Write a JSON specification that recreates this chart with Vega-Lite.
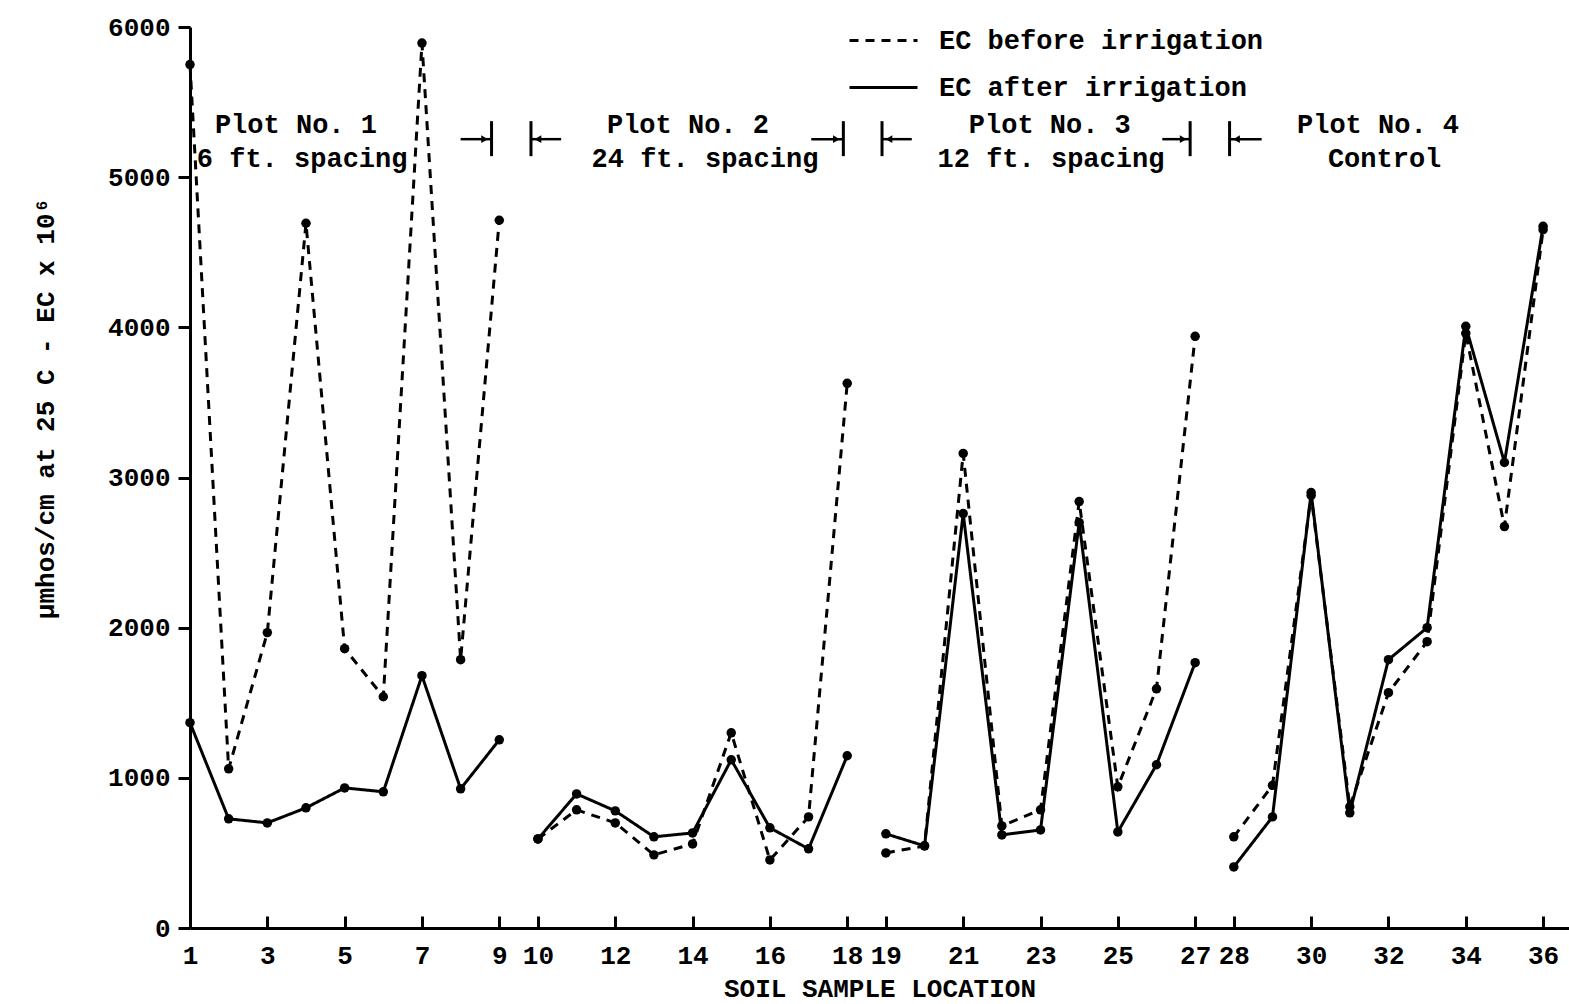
{
  "$schema": "https://vega.github.io/schema/vega-lite/v6.json",
  "width": 1379,
  "height": 901,
  "autosize": "none",
  "padding": {"left": 190, "top": 27, "right": 0, "bottom": 76},
  "background": "white",
  "config": {
    "view": {"stroke": null},
    "font": "Liberation Mono",
    "axis": {"grid": false, "domainColor": "black", "domainWidth": 3, "tickColor": "black", "tickWidth": 3, "labelColor": "black", "labelFont": "Liberation Mono", "labelFontWeight": "bold", "labelFontSize": 26, "titleFont": "Liberation Mono", "titleFontWeight": "bold", "titleFontSize": 26, "titleColor": "black"}
  },
  "datasets": {
    "ec": [
      {"loc": 1, "ec": 5750, "series": "EC before irrigation", "plot": 1},
      {"loc": 2, "ec": 1060, "series": "EC before irrigation", "plot": 1},
      {"loc": 3, "ec": 1967, "series": "EC before irrigation", "plot": 1},
      {"loc": 4, "ec": 4693, "series": "EC before irrigation", "plot": 1},
      {"loc": 5, "ec": 1860, "series": "EC before irrigation", "plot": 1},
      {"loc": 6, "ec": 1540, "series": "EC before irrigation", "plot": 1},
      {"loc": 7, "ec": 5893, "series": "EC before irrigation", "plot": 1},
      {"loc": 8, "ec": 1787, "series": "EC before irrigation", "plot": 1},
      {"loc": 9, "ec": 4713, "series": "EC before irrigation", "plot": 1},
      {"loc": 10, "ec": 593, "series": "EC before irrigation", "plot": 2},
      {"loc": 11, "ec": 787, "series": "EC before irrigation", "plot": 2},
      {"loc": 12, "ec": 700, "series": "EC before irrigation", "plot": 2},
      {"loc": 13, "ec": 487, "series": "EC before irrigation", "plot": 2},
      {"loc": 14, "ec": 560, "series": "EC before irrigation", "plot": 2},
      {"loc": 15, "ec": 1300, "series": "EC before irrigation", "plot": 2},
      {"loc": 16, "ec": 453, "series": "EC before irrigation", "plot": 2},
      {"loc": 17, "ec": 740, "series": "EC before irrigation", "plot": 2},
      {"loc": 18, "ec": 3627, "series": "EC before irrigation", "plot": 2},
      {"loc": 19, "ec": 500, "series": "EC before irrigation", "plot": 3},
      {"loc": 20, "ec": 547, "series": "EC before irrigation", "plot": 3},
      {"loc": 21, "ec": 3160, "series": "EC before irrigation", "plot": 3},
      {"loc": 22, "ec": 680, "series": "EC before irrigation", "plot": 3},
      {"loc": 23, "ec": 787, "series": "EC before irrigation", "plot": 3},
      {"loc": 24, "ec": 2840, "series": "EC before irrigation", "plot": 3},
      {"loc": 25, "ec": 940, "series": "EC before irrigation", "plot": 3},
      {"loc": 26, "ec": 1593, "series": "EC before irrigation", "plot": 3},
      {"loc": 27, "ec": 3940, "series": "EC before irrigation", "plot": 3},
      {"loc": 28, "ec": 607, "series": "EC before irrigation", "plot": 4},
      {"loc": 29, "ec": 950, "series": "EC before irrigation", "plot": 4},
      {"loc": 30, "ec": 2880, "series": "EC before irrigation", "plot": 4},
      {"loc": 31, "ec": 807, "series": "EC before irrigation", "plot": 4},
      {"loc": 32, "ec": 1567, "series": "EC before irrigation", "plot": 4},
      {"loc": 33, "ec": 1907, "series": "EC before irrigation", "plot": 4},
      {"loc": 34, "ec": 3960, "series": "EC before irrigation", "plot": 4},
      {"loc": 35, "ec": 2673, "series": "EC before irrigation", "plot": 4},
      {"loc": 36, "ec": 4650, "series": "EC before irrigation", "plot": 4},
      {"loc": 1, "ec": 1367, "series": "EC after irrigation", "plot": 1},
      {"loc": 2, "ec": 727, "series": "EC after irrigation", "plot": 1},
      {"loc": 3, "ec": 700, "series": "EC after irrigation", "plot": 1},
      {"loc": 4, "ec": 800, "series": "EC after irrigation", "plot": 1},
      {"loc": 5, "ec": 933, "series": "EC after irrigation", "plot": 1},
      {"loc": 6, "ec": 907, "series": "EC after irrigation", "plot": 1},
      {"loc": 7, "ec": 1680, "series": "EC after irrigation", "plot": 1},
      {"loc": 8, "ec": 927, "series": "EC after irrigation", "plot": 1},
      {"loc": 9, "ec": 1253, "series": "EC after irrigation", "plot": 1},
      {"loc": 10, "ec": 593, "series": "EC after irrigation", "plot": 2},
      {"loc": 11, "ec": 893, "series": "EC after irrigation", "plot": 2},
      {"loc": 12, "ec": 780, "series": "EC after irrigation", "plot": 2},
      {"loc": 13, "ec": 607, "series": "EC after irrigation", "plot": 2},
      {"loc": 14, "ec": 633, "series": "EC after irrigation", "plot": 2},
      {"loc": 15, "ec": 1120, "series": "EC after irrigation", "plot": 2},
      {"loc": 16, "ec": 667, "series": "EC after irrigation", "plot": 2},
      {"loc": 17, "ec": 527, "series": "EC after irrigation", "plot": 2},
      {"loc": 18, "ec": 1147, "series": "EC after irrigation", "plot": 2},
      {"loc": 19, "ec": 627, "series": "EC after irrigation", "plot": 3},
      {"loc": 20, "ec": 547, "series": "EC after irrigation", "plot": 3},
      {"loc": 21, "ec": 2760, "series": "EC after irrigation", "plot": 3},
      {"loc": 22, "ec": 620, "series": "EC after irrigation", "plot": 3},
      {"loc": 23, "ec": 653, "series": "EC after irrigation", "plot": 3},
      {"loc": 24, "ec": 2700, "series": "EC after irrigation", "plot": 3},
      {"loc": 25, "ec": 640, "series": "EC after irrigation", "plot": 3},
      {"loc": 26, "ec": 1087, "series": "EC after irrigation", "plot": 3},
      {"loc": 27, "ec": 1767, "series": "EC after irrigation", "plot": 3},
      {"loc": 28, "ec": 407, "series": "EC after irrigation", "plot": 4},
      {"loc": 29, "ec": 740, "series": "EC after irrigation", "plot": 4},
      {"loc": 30, "ec": 2900, "series": "EC after irrigation", "plot": 4},
      {"loc": 31, "ec": 767, "series": "EC after irrigation", "plot": 4},
      {"loc": 32, "ec": 1787, "series": "EC after irrigation", "plot": 4},
      {"loc": 33, "ec": 2000, "series": "EC after irrigation", "plot": 4},
      {"loc": 34, "ec": 4007, "series": "EC after irrigation", "plot": 4},
      {"loc": 35, "ec": 3100, "series": "EC after irrigation", "plot": 4},
      {"loc": 36, "ec": 4673, "series": "EC after irrigation", "plot": 4}
    ],
    "labels": [
      {"label": "Plot No. 1", "x": 3.74, "y": 5347},
      {"label": "6 ft. spacing", "x": 3.9, "y": 5120},
      {"label": "Plot No. 2", "x": 13.88, "y": 5347},
      {"label": "24 ft. spacing", "x": 14.32, "y": 5120},
      {"label": "Plot No. 3", "x": 23.24, "y": 5347},
      {"label": "12 ft. spacing", "x": 23.27, "y": 5120},
      {"label": "Plot No. 4", "x": 31.73, "y": 5347},
      {"label": "Control", "x": 31.9, "y": 5120}
    ],
    "arrows": [
      {"bar": 8.8, "tail": 8.0, "head": 8.62, "dir": "right"},
      {"bar": 9.82, "tail": 10.6, "head": 10.0, "dir": "left"},
      {"bar": 17.9, "tail": 17.07, "head": 17.72, "dir": "right"},
      {"bar": 18.9, "tail": 19.67, "head": 19.08, "dir": "left"},
      {"bar": 26.87, "tail": 26.15, "head": 26.69, "dir": "right"},
      {"bar": 27.89, "tail": 28.72, "head": 28.07, "dir": "left"}
    ]
  },
  "layer": [
    {
      "data": {"name": "ec"},
      "mark": {"type": "line", "strokeWidth": 3, "color": "black"},
      "encoding": {
        "x": {"field": "loc", "type": "quantitative", "scale": {"domain": [1, 36.67], "nice": false, "zero": false},
          "axis": {"values": [1,3,5,7,9,10,12,14,16,18,19,21,23,25,27,28,30,32,34,36], "tickSize": -12, "labelPadding": 26, "title": "SOIL SAMPLE LOCATION", "titleY": 60, "titleBaseline": "middle", "labelFlush": false}},
        "y": {"field": "ec", "type": "quantitative", "scale": {"domain": [0, 6000], "nice": false},
          "axis": {"values": [0,1000,2000,3000,4000,5000,6000], "format": "d", "tickSize": 12, "labelPadding": 8, "title": "µmhos/cm at 25 C - EC x 10⁶", "titleX": -145, "titleY": 381, "titleAngle": -90, "titleAlign": "center", "titleBaseline": "middle"}},
        "detail": {"field": "plot", "type": "nominal"},
        "strokeDash": {"field": "series", "type": "nominal",
          "scale": {"domain": ["EC before irrigation", "EC after irrigation"], "range": [[9, 7], [1, 0]]},
          "legend": {"title": null, "orient": "none", "legendX": 658, "legendY": -10, "symbolType": "stroke", "symbolSize": 4624, "symbolStrokeWidth": 3, "symbolStrokeColor": "black", "labelFont": "Liberation Mono", "labelFontWeight": "bold", "labelFontSize": 27, "labelColor": "black", "labelOffset": 20, "labelLimit": 500, "clipHeight": 47, "rowPadding": 0}}
      }
    },
    {
      "data": {"name": "ec"},
      "mark": {"type": "point", "filled": true, "size": 90, "color": "black", "opacity": 1},
      "encoding": {
        "x": {"field": "loc", "type": "quantitative"},
        "y": {"field": "ec", "type": "quantitative"}
      }
    },
    {
      "data": {"name": "labels"},
      "mark": {"type": "text", "font": "Liberation Mono", "fontWeight": "bold", "fontSize": 27, "color": "black", "align": "center", "baseline": "middle"},
      "encoding": {
        "x": {"field": "x", "type": "quantitative"},
        "y": {"field": "y", "type": "quantitative"},
        "text": {"field": "label"}
      }
    },
    {
      "data": {"name": "arrows"},
      "mark": {"type": "rule", "strokeWidth": 2.5, "color": "black"},
      "encoding": {
        "x": {"field": "tail", "type": "quantitative"},
        "x2": {"field": "bar"},
        "y": {"datum": 5253, "type": "quantitative"}
      }
    },
    {
      "data": {"name": "arrows"},
      "mark": {"type": "rule", "strokeWidth": 3, "color": "black"},
      "encoding": {
        "x": {"field": "bar", "type": "quantitative"},
        "y": {"datum": 5373, "type": "quantitative"},
        "y2": {"datum": 5140}
      }
    },
    {
      "data": {"name": "arrows"},
      "mark": {"type": "point", "filled": true, "size": 60, "color": "black", "opacity": 1},
      "encoding": {
        "x": {"field": "head", "type": "quantitative"},
        "y": {"datum": 5253, "type": "quantitative"},
        "shape": {"field": "dir", "type": "nominal", "scale": {"domain": ["right", "left"], "range": ["triangle-right", "triangle-left"]}, "legend": null}
      }
    }
  ]
}
